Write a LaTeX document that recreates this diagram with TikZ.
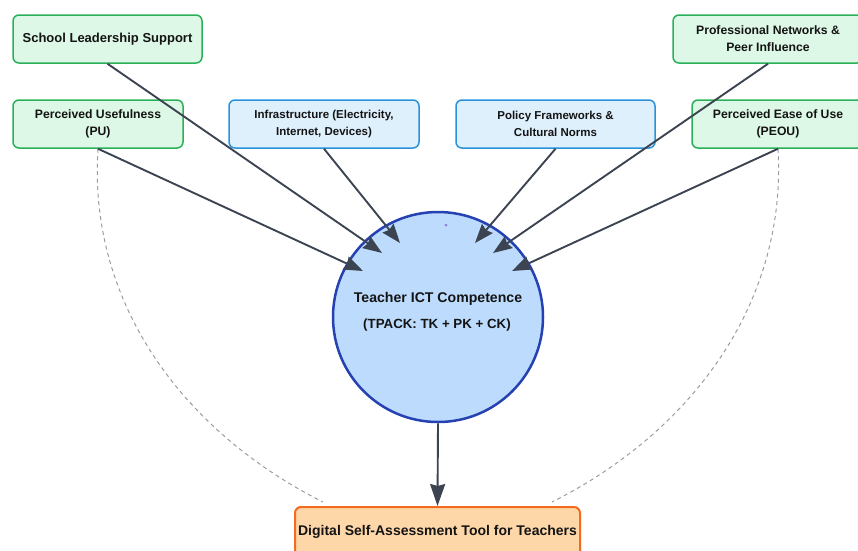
\documentclass[tikz,border=0pt]{standalone}
\usepackage{fontspec}
\setmainfont{Liberation Sans}
\usetikzlibrary{arrows.meta}
\definecolor{gfill}{HTML}{DDF8E6}
\definecolor{gline}{HTML}{2BB05A}
\definecolor{bfill}{HTML}{DFF0FD}
\definecolor{bline}{HTML}{2A92DA}
\definecolor{cfill}{HTML}{BDDBFD}
\definecolor{cline}{HTML}{2541B2}
\definecolor{ofill}{HTML}{FED7A9}
\definecolor{oline}{HTML}{F26B21}
\definecolor{arr}{HTML}{3C4452}
\definecolor{txt}{HTML}{141414}
\definecolor{dash}{HTML}{9A9CA2}
\definecolor{dotc}{HTML}{8C7AE6}
\begin{document}
\begin{tikzpicture}[x=1pt,y=-1pt,
  box/.style={rectangle,rounded corners=6pt,line width=1.5pt,align=center,
    text=txt,font=\bfseries\fontsize{12.2}{17}\selectfont,inner sep=0pt},
  gbox/.style={box,draw=gline,fill=gfill},
  bbox/.style={box,draw=bline,fill=bfill,font=\bfseries\fontsize{11.5}{17}\selectfont},
  link/.style={draw=arr,line width=1.9pt,-{Stealth[length=19pt,width=14pt,inset=2pt]}},
  dlink/.style={draw=dash,line width=1pt,dash pattern=on 4pt off 3.5pt}]
\useasboundingbox (0,0) rectangle (858,550);
\clip (0,0) rectangle (858,550);
\node[gbox,minimum width=189pt,minimum height=48pt,font=\bfseries\fontsize{13}{17}\selectfont] (sls) at (107.5,39) {School Leadership Support};
\node[gbox,minimum width=170pt,minimum height=48pt] (pu) at (98,124) {Perceived Usefulness\\(PU)};
\node[bbox,minimum width=190pt,minimum height=48pt] (inf) at (324,124) {Infrastructure (Electricity,\\Internet, Devices)};
\node[bbox,minimum width=199pt,minimum height=48pt] (pol) at (555.5,124) {Policy Frameworks \&\\Cultural Norms};
\node[gbox,minimum width=190pt,minimum height=48pt] (pro) at (768,39) {Professional Networks \&\\Peer Influence};
\node[gbox,minimum width=172pt,minimum height=48pt] (peou) at (778,124) {Perceived Ease of Use\\(PEOU)};
\node[circle,draw=cline,fill=cfill,line width=2.5pt,minimum size=210pt,inner sep=0pt] (circ) at (438,317) {};
\node[text=txt,inner sep=0pt,font=\bfseries\fontsize{14.1}{17}\selectfont] (ctxt1) at (438,299) {Teacher ICT Competence};
\node[text=txt,inner sep=0pt,font=\bfseries\fontsize{13.3}{17}\selectfont] (ctxt2) at (437,325) {(TPACK: TK + PK + CK)};
\node[rectangle,rounded corners=6pt,draw=oline,fill=ofill,line width=2pt,minimum width=285pt,minimum height=50pt,inner sep=0pt,text=txt,font=\bfseries\fontsize{14}{17}\selectfont] (tool) at (437.5,532) {Digital Self-Assessment Tool for Teachers};
\fill[color=dotc] (446,225) circle (1.5pt);
\coordinate (t1) at (363,271);
\coordinate (t2) at (382,253);
\coordinate (t3) at (400,243);
\coordinate (t4) at (475,243);
\coordinate (t5) at (493,253);
\coordinate (t6) at (512,271);
\draw[dlink] (pu.south) .. controls (88,300) and (180,430) .. (323,502);
\draw[dlink] (peou.south) .. controls (787,300) and (695,430) .. (552,502);
\draw[link] (pu.south) -- (t1);
\draw[link] (sls.south) -- (t2);
\draw[link] (inf.south) -- (t3);
\draw[link] (pol.south) -- (t4);
\draw[link] (pro.south) -- (t5);
\draw[link] (peou.south) -- (t6);
\draw[link,-{Stealth[length=22pt,width=15pt,inset=2pt]}] (circ.south) -- (tool.north);
\end{tikzpicture}
\end{document}
